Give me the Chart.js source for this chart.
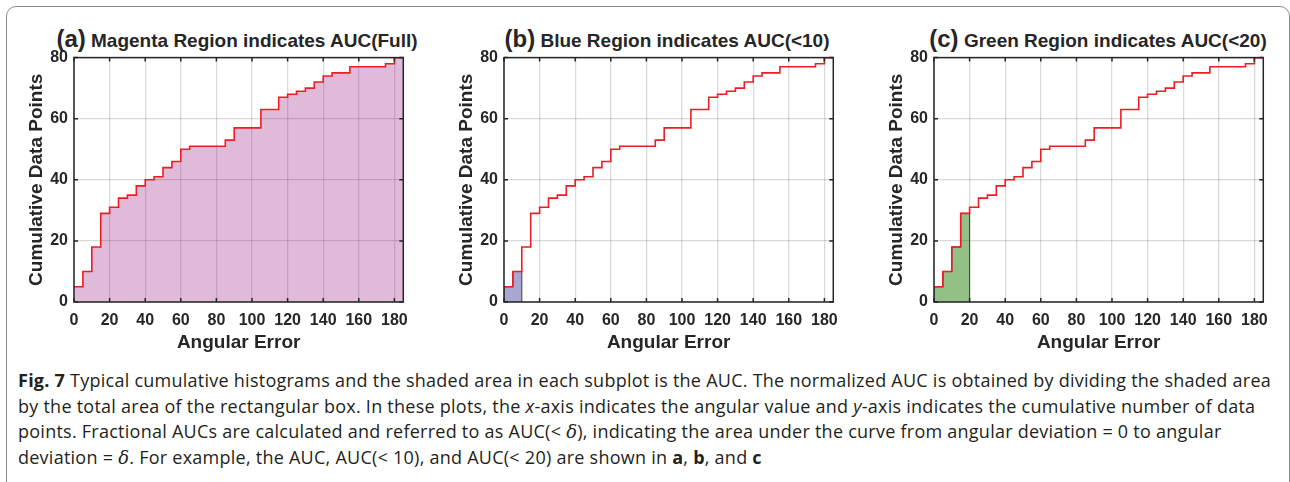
<!DOCTYPE html>
<html>
<head>
<meta charset="utf-8">
<script src="https://cdn.jsdelivr.net/npm/chart.js@4.4.0/dist/chart.umd.min.js"></script>
<style>
  body { margin: 0; background: #fff; width: 1290px; height: 482px; overflow: hidden; position: relative; }
  .frame { position: absolute; left: 6px; top: 6px; width: 1282px; height: 520px; border: 1px solid #8c8c8c; border-radius: 10px; }
  .panel { position: absolute; top: 42px; }
  .ttl { position: absolute; top: 25px; transform: translateX(-50%); white-space: nowrap;
         font-family: "Liberation Sans", Arial, sans-serif; font-weight: bold; font-size: 19px; line-height: 28px; color: #262626; }
  .ttl span { font-size: 24px; }
  .cap { position: absolute; left: 18px; top: 368px; font-family: "Open Sans", sans-serif; font-size: 18px;
         letter-spacing: 0.25px; line-height: 25.5px; color: #231f20; white-space: nowrap; }
  .cap .d { font-family: "DejaVu Serif", serif; }
</style>
</head>
<body>
<div class="frame"></div>

<div class="ttl" style="left:237px"><span>(a)</span> Magenta Region indicates AUC(Full)</div>
<div class="ttl" style="left:667px"><span>(b)</span> Blue Region indicates AUC(&lt;10)</div>
<div class="ttl" style="left:1098px"><span>(c)</span> Green Region indicates AUC(&lt;20)</div>

<canvas id="chartA" class="panel" style="left:10px" width="407" height="322"></canvas>
<canvas id="chartB" class="panel" style="left:440px" width="407" height="322"></canvas>
<canvas id="chartC" class="panel" style="left:870px" width="407" height="322"></canvas>

<div class="cap">
  <div><b>Fig. 7</b> Typical cumulative histograms and the shaded area in each subplot is the AUC. The normalized AUC is obtained by dividing the shaded area</div>
  <div>by the total area of the rectangular box. In these plots, the <i>x</i>-axis indicates the angular value and <i>y</i>-axis indicates the cumulative number of data</div>
  <div>points. Fractional AUCs are calculated and referred to as AUC(&lt; <i class="d">δ</i>), indicating the area under the curve from angular deviation = 0 to angular</div>
  <div>deviation = <i class="d">δ</i>. For example, the AUC, AUC(&lt; 10), and AUC(&lt; 20) are shown in <b>a</b>, <b>b</b>, and <b>c</b></div>
</div>

<script>
// histogram bins (start of each 5-degree bin) and cumulative counts
var binStarts = [0, 5, 10, 15, 20, 25, 30, 35, 40, 45, 50, 55, 60, 65, 70, 75, 80, 85, 90,
                 95, 100, 105, 110, 115, 120, 125, 130, 135, 140, 145, 150, 155, 160, 165, 170, 175, 180];
var cumCounts = [5, 10, 18, 29, 31, 34, 35, 38, 40, 41, 44, 46, 50, 51, 51, 51, 51, 53, 57,
                 57, 57, 63, 63, 67, 68, 69, 70, 72, 74, 75, 75, 77, 77, 77, 77, 78, 80];
var lastEdge = 185;
var xTicks = [0, 20, 40, 60, 80, 100, 120, 140, 160, 180];
var yTicks = [0, 20, 40, 60, 80];

var textColor = '#262626';
var lineColor = '#ee1c24';
var gridColor = 'rgba(38,38,38,0.17)';

// staircase points for the whole curve
function curvePoints() {
	var pts = binStarts.map(function(x, i) { return {x: x, y: cumCounts[i]}; });
	pts.push({x: lastEdge, y: cumCounts[cumCounts.length - 1]});
	return pts;
}

// closed staircase from 0 to the AUC limit
function shadePoints(limit) {
	var pts = [{x: 0, y: 0}];
	var last = 0;
	binStarts.forEach(function(x, i) {
		if (x < limit) { pts.push({x: x, y: cumCounts[i]}); last = cumCounts[i]; }
	});
	pts.push({x: limit, y: last});
	pts.push({x: limit, y: 0});
	return pts;
}

// matlab style box with inner tick marks
var boxPlugin = {
	id: 'box',
	afterDatasetsDraw: function(chart) {
		var ctx = chart.ctx, a = chart.chartArea, sx = chart.scales.x, sy = chart.scales.y;
		ctx.save();
		ctx.strokeStyle = textColor;
		ctx.lineWidth = 1.5;
		ctx.beginPath();
		xTicks.forEach(function(v) {
			var p = sx.getPixelForValue(v);
			ctx.moveTo(p, a.bottom); ctx.lineTo(p, a.bottom - 4);
			ctx.moveTo(p, a.top); ctx.lineTo(p, a.top + 4);
		});
		yTicks.forEach(function(v) {
			var p = sy.getPixelForValue(v);
			ctx.moveTo(a.left, p); ctx.lineTo(a.left + 4, p);
			ctx.moveTo(a.right, p); ctx.lineTo(a.right - 4, p);
		});
		ctx.stroke();
		ctx.strokeRect(a.left, a.top, a.right - a.left, a.bottom - a.top);
		ctx.restore();
	}
};

function makeChart(id, curveFill, shadeLimit, shadeColor) {
	var datasets = [{
		data: curvePoints(),
		stepped: true,
		borderColor: lineColor,
		borderWidth: 1.6,
		pointRadius: 0,
		fill: curveFill ? 'origin' : false,
		backgroundColor: curveFill || 'transparent'
	}];
	if (shadeLimit) {
		datasets.push({
			data: shadePoints(shadeLimit),
			stepped: true,
			borderColor: '#3a3a3a',
			borderWidth: 1,
			pointRadius: 0,
			fill: 'origin',
			backgroundColor: shadeColor
		});
	}
	var tickFont = {family: '"Liberation Sans", Arial, sans-serif', size: 16, weight: 'bold'};
	var titleFont = {family: '"Liberation Sans", Arial, sans-serif', size: 19, weight: 'bold'};
	return new Chart(document.getElementById(id).getContext('2d'), {
		type: 'line',
		data: {datasets: datasets},
		options: {
			responsive: false,
			animation: false,
			layout: {padding: {top: 0, right: 10, left: 0, bottom: 0}},
			plugins: {legend: {display: false}, tooltip: {enabled: false}},
			scales: {
				x: {
					type: 'linear', min: 0, max: lastEdge,
					afterBuildTicks: function(s) { s.ticks = xTicks.map(function(v) { return {value: v}; }); },
					afterFit: function(s) { s.height = 62; },
					grid: {color: gridColor, lineWidth: 1.3, drawTicks: false},
					border: {display: false},
					ticks: {color: textColor, font: tickFont, padding: 9, maxRotation: 0},
					title: {display: true, text: 'Angular Error', color: textColor, font: titleFont, padding: {top: 0, bottom: 10}}
				},
				y: {
					type: 'linear', min: 0, max: 80,
					afterBuildTicks: function(s) { s.ticks = yTicks.map(function(v) { return {value: v}; }); },
					afterFit: function(s) { s.width = 64; },
					grid: {color: gridColor, lineWidth: 1.3, drawTicks: false},
					border: {display: false},
					ticks: {color: textColor, font: tickFont, padding: 6},
					title: {display: true, text: 'Cumulative Data Points', color: textColor, font: titleFont, padding: {top: 15, bottom: 0}}
				}
			}
		},
		plugins: [boxPlugin]
	});
}

makeChart('chartA', 'rgba(150,30,130,0.3)', null, null);
makeChart('chartB', null, 10, 'rgba(80,80,160,0.5)');
makeChart('chartC', null, 20, 'rgba(40,130,10,0.5)');
</script>
</body>
</html>
